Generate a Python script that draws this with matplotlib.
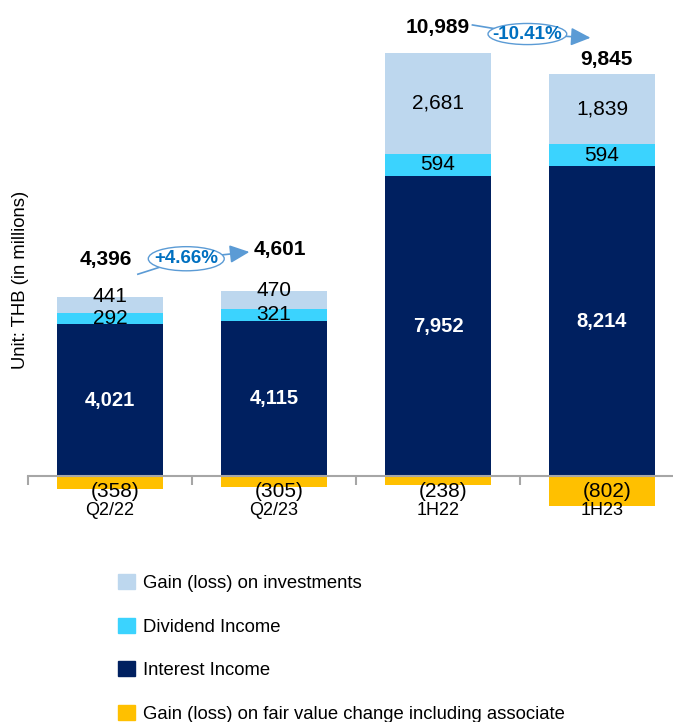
import matplotlib
matplotlib.use("Agg")
import matplotlib.pyplot as plt
from matplotlib.patches import Ellipse, Patch
import numpy as np

plt.rcParams['font.family'] = ['Liberation Sans', 'DejaVu Sans']

categories = ['Q2/22', 'Q2/23', '1H22', '1H23']
interest_income = [4021, 4115, 7952, 8214]
dividend_income = [292, 321, 594, 594]
invest_gain = [441, 470, 2681, 1839]
fair_value_change = [-358, -305, -238, -802]
growth_labels = ['+4.66%', '-10.41%']

C_GAIN = '#BDD7EE'
C_DIV = '#3BD3FE'
C_INT = '#002060'
C_FV = '#FFC000'
C_ARROW = '#5B9BD5'
C_PCT = '#0070C0'

fig = plt.figure(figsize=(6.73, 7.22), dpi=100)
ax = fig.add_axes([0.0416, 0.2625, 0.9584, 0.705])
ax.set_axisbelow(False)

x = np.arange(len(categories))
w = 0.646
interest = np.array(interest_income)
div = np.array(dividend_income)
gain = np.array(invest_gain)
fv = np.array(fair_value_change)

ax.bar(x, interest, w, color=C_INT, zorder=1)
ax.bar(x, div, w, bottom=interest, color=C_DIV, zorder=1)
ax.bar(x, gain, w, bottom=interest + div, color=C_GAIN, zorder=1)
ax.bar(x, fv, w, color=C_FV, zorder=1)

ax.set_xlim(-0.5, 3.433)
ax.set_ylim(-1500, 12000)

# axis: only a grey baseline at zero with boundary ticks
for s in ['top', 'right', 'left']:
    ax.spines[s].set_visible(False)
ax.spines['bottom'].set_position(('data', 0))
ax.spines['bottom'].set_color('#A6A6A6')
ax.spines['bottom'].set_linewidth(1.5)
ax.set_yticks([])
ax.set_xticks(x)
ax.set_xticklabels(categories, fontsize=13)
ax.tick_params(axis='x', which='major', length=0, pad=19)
ax.set_xticks(np.arange(-0.5, 3.5, 1.0), minor=True)
ax.tick_params(axis='x', which='minor', length=6.5, width=1.5,
               color='#A6A6A6', direction='out')

# segment labels
for i in x:
    ax.text(i, interest[i] / 2, f'{interest[i]:,}', ha='center', va='center',
            color='white', fontsize=14.5, fontweight='bold', zorder=4)
    ax.text(i, interest[i] + div[i] / 2, f'{div[i]:,}', ha='center', va='center',
            color='black', fontsize=15, zorder=4)
    top = interest[i] + div[i] + gain[i]
    gy = top - gain[i] / 2 if gain[i] > 1000 else top
    ax.text(i, gy, f'{gain[i]:,}', ha='center', va='center',
            color='black', fontsize=15, zorder=4)
    ax.annotate(f'({-fv[i]:,})', (i, 0), xytext=(4, -11),
                textcoords='offset points', ha='center', va='center',
                fontsize=15, zorder=4)

# net totals above each stack
totals = interest + div + gain + fv
total_offsets = [(-3, 27), (4, 30), (0, 18), (3, 11)]
for i in x:
    top = interest[i] + div[i] + gain[i]
    ax.annotate(f'{totals[i]:,}', (i, top), xytext=total_offsets[i],
                textcoords='offset points', ha='center', va='center',
                fontsize=15, fontweight='bold', zorder=4)

# growth callouts: line from first total, ellipse badge, arrow to next total
callouts = [
    dict(start=(0.17, 5350), center=(0.465, 5760), tip=(0.85, 5940),
         size=(0.463, 640)),
    dict(start=(2.21, 11960), center=(2.545, 11720), tip=(2.93, 11620),
         size=(0.48, 560)),
]
for lbl, c in zip(growth_labels, callouts):
    ax.plot([c['start'][0], c['center'][0]], [c['start'][1], c['center'][1]],
            color=C_ARROW, lw=1.2, zorder=5, clip_on=False)
    ax.annotate('', xy=c['tip'], xytext=c['center'],
                arrowprops=dict(arrowstyle='-|>,head_length=1.2,head_width=0.55',
                                color=C_ARROW, lw=1.2, mutation_scale=10,
                                shrinkA=0, shrinkB=0),
                zorder=5, annotation_clip=False)
    ell = Ellipse(c['center'], c['size'][0], c['size'][1], facecolor='white',
                  edgecolor=C_ARROW, lw=1.0, zorder=6, clip_on=False)
    ax.add_patch(ell)
    ax.text(c['center'][0], c['center'][1], lbl, ha='center', va='center',
            color=C_PCT, fontsize=13.5, fontweight='bold', zorder=7)

fig.text(21 / 673, 1 - 280 / 722, 'Unit: THB (in millions)', rotation=90,
         ha='center', va='center', fontsize=13.3)

handles = [Patch(color=C_GAIN), Patch(color=C_DIV), Patch(color=C_INT),
           Patch(color=C_FV)]
names = ['Gain (loss) on investments', 'Dividend Income', 'Interest Income',
         'Gain (loss) on fair value change including associate']
fig.legend(handles, names, loc='upper left',
           bbox_to_anchor=(118 / 673, 1 - 574 / 722), frameon=False,
           fontsize=13.3, handlelength=0.9, handleheight=0.9,
           handletextpad=0.45, labelspacing=1.38, borderpad=0,
           borderaxespad=0)

fig.savefig('out.png', dpi=100)
